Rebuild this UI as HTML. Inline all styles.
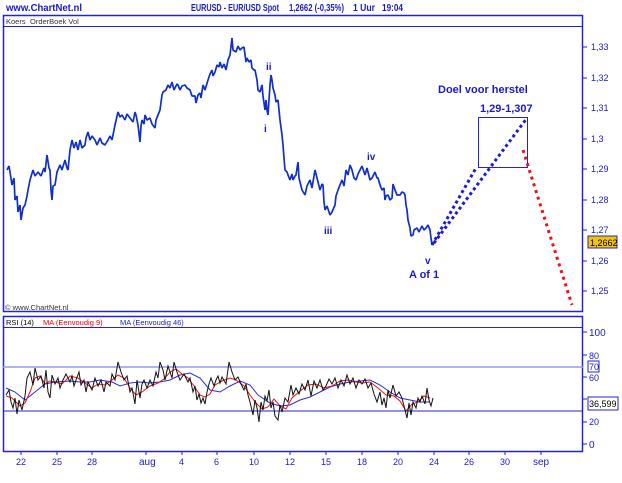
<!DOCTYPE html>
<html><head><meta charset="utf-8"><style>
body{margin:0;background:#fff;}
svg{display:block;font-family:"Liberation Sans",Arial,sans-serif;}
</style></head><body>
<svg width="622" height="483" viewBox="0 0 622 483" xmlns="http://www.w3.org/2000/svg">
<rect width="622" height="483" fill="#fff"/>
<text x="6" y="11" font-size="10" font-weight="bold" fill="#1a1acc" textLength="76" lengthAdjust="spacingAndGlyphs">www.ChartNet.nl</text>
<text x="191" y="11" font-size="10" font-weight="bold" fill="#1a1acc" textLength="88" lengthAdjust="spacingAndGlyphs">EURUSD - EUR/USD Spot</text>
<text x="289" y="11" font-size="10" font-weight="bold" fill="#1a1acc" textLength="55" lengthAdjust="spacingAndGlyphs">1,2662 (-0,35%)</text>
<text x="353" y="11" font-size="10" font-weight="bold" fill="#1a1acc" textLength="22" lengthAdjust="spacingAndGlyphs">1 Uur</text>
<text x="382" y="11" font-size="10" font-weight="bold" fill="#1a1acc" textLength="21" lengthAdjust="spacingAndGlyphs">19:04</text>
<!-- top panel -->
<rect x="3.5" y="15.5" width="579" height="296" fill="none" stroke="#2222dd" stroke-width="1.5"/>
<line x1="3" y1="26.5" x2="583" y2="26.5" stroke="#2222dd"/>
<text x="6" y="24" font-size="7.5" fill="#333">Koers</text>
<text x="30" y="24" font-size="7.5" fill="#333">OrderBoek Vol</text>
<text x="5" y="310" font-size="7.5" fill="#333">© www.ChartNet.nl</text>
<g font-size="9" fill="#1a1acc" stroke="#2222dd">
<line x1="583" y1="47" x2="587" y2="47"/><text x="591" y="50" stroke="none">1,33</text>
<line x1="583" y1="78" x2="587" y2="78"/><text x="591" y="81" stroke="none">1,32</text>
<line x1="583" y1="108" x2="587" y2="108"/><text x="591" y="111" stroke="none">1,31</text>
<line x1="583" y1="139" x2="587" y2="139"/><text x="591" y="142" stroke="none">1,3</text>
<line x1="583" y1="169" x2="587" y2="169"/><text x="591" y="172" stroke="none">1,29</text>
<line x1="583" y1="200" x2="587" y2="200"/><text x="591" y="203" stroke="none">1,28</text>
<line x1="583" y1="230" x2="587" y2="230"/><text x="591" y="233" stroke="none">1,27</text>
<line x1="583" y1="261" x2="587" y2="261"/><text x="591" y="264" stroke="none">1,26</text>
<line x1="583" y1="291" x2="587" y2="291"/><text x="591" y="294" stroke="none">1,25</text>
</g>
<rect x="588" y="236" width="29" height="12" fill="#f5c400" stroke="#2222dd"/>
<text x="590" y="246" font-size="9" fill="#000">1,2662</text>
<polyline fill="none" stroke="#1030c8" stroke-width="1.7" stroke-linejoin="bevel" points="7,170 9,166 10,172 12,185 14,178 15,200 17,196 18,212 20,205 21,220 23,208 25,205 27,196 28,190 30,180 33,170 35,176 38,172 41,176 44,168 45,172 47,155 49,168 50,170 51,190 52,200 53,186 55,185 57,172 60,165 62,170 65,160 67,168 68,170 70,150 72,140 74,148 76,142 78,150 80,140 82,148 85,145 86,138 88,132 90,140 92,136 95,140 97,145 100,138 102,143 105,145 108,140 110,136 112,140 115,125 118,112 120,117 122,115 125,120 127,114 130,118 133,122 135,112 136,115 138,125 140,142 141,126 142,120 144,124 145,115 147,120 150,118 152,124 155,128 156,120 158,115 160,110 162,95 163,92 166,90 168,85 170,88 172,82 174,90 175,88 177,84 178,85 180,90 182,86 185,85 187,88 190,90 192,96 195,96 196,103 198,95 200,93 201,98 203,85 205,90 208,80 210,74 212,70 213,76 215,72 217,65 219,67 220,62 222,68 224,64 226,70 228,60 230,55 232,38 233,50 236,52 238,46 240,50 242,48 244,47 246,62 247,58 249,62 251,60 252,68 254,70 255,70 257,80 258,90 260,92 262,85 263,96 265,110 266,100 267,110 268,115 269,100 270,85 271,75 272,80 273,88 275,95 276,102 278,100 280,120 282,135 283,145 284,158 285,170 287,172 288,175 290,180 292,174 293,180 295,176 296,175 298,162 299,178 300,182 302,190 305,195 307,186 310,180 312,188 315,170 317,178 320,190 322,184 323,185 324,202 325,210 327,206 330,215 332,212 335,205 336,196 338,190 340,185 342,180 344,186 346,170 348,175 350,165 352,170 354,178 356,180 358,174 360,170 362,166 365,175 367,168 370,180 372,178 375,172 377,178 378,178 380,185 382,190 384,188 385,200 386,196 388,195 390,200 392,198 393,184 395,190 397,195 400,195 402,192 404,193 405,195 406,205 407,210 408,220 410,228 411,236 413,235 414,230 417,228 419,232 422,226 424,230 426,228 428,225 430,230 431,238 432,245"/>
<!-- projection -->
<rect x="478.5" y="117.5" width="49" height="50" fill="none" stroke="#2222dd" stroke-width="1"/>
<line x1="432" y1="245" x2="476" y2="168" stroke="#1a1ae0" stroke-width="3" stroke-dasharray="3,3"/>
<line x1="434" y1="243" x2="527" y2="118" stroke="#1a1ae0" stroke-width="3" stroke-dasharray="3,3"/>
<line x1="523" y1="150" x2="572" y2="305" stroke="#ee1111" stroke-width="3" stroke-dasharray="3,4"/>
<g font-size="11" font-weight="bold" fill="#1a1acc">
<text x="438" y="93">Doel voor herstel</text>
<text x="480" y="112">1,29-1,307</text>
<text x="409" y="278">A of 1</text>
</g>
<g font-size="10" font-weight="bold" fill="#1a1acc">
<text x="266" y="70">ii</text>
<text x="264" y="132">i</text>
<text x="324" y="234">iii</text>
<text x="367" y="160">iv</text>
<text x="425" y="264">v</text>
</g>
<!-- RSI panel -->
<rect x="3.5" y="316.5" width="579" height="135" fill="none" stroke="#2222dd" stroke-width="1.5"/>
<line x1="3" y1="327.5" x2="583" y2="327.5" stroke="#2222dd"/>
<text x="6" y="325" font-size="7.5" fill="#000">RSI (14)</text>
<text x="43" y="325" font-size="7.5" fill="#e00">MA (Eenvoudig 9)</text>
<text x="120" y="325" font-size="7.5" fill="#1a1acc">MA (Eenvoudig 46)</text>
<line x1="3" y1="367" x2="583" y2="367" stroke="#9999ee" stroke-width="1.5"/>
<line x1="3" y1="411" x2="583" y2="411" stroke="#2222dd"/>
<g font-size="9" fill="#1a1acc" stroke="#2222dd">
<line x1="583" y1="332" x2="587" y2="332"/><text x="589" y="336" stroke="none" font-size="10">100</text>
<line x1="583" y1="355" x2="587" y2="355"/><text x="589" y="359" stroke="none">80</text>
<line x1="583" y1="377" x2="587" y2="377"/><text x="589" y="381" stroke="none">60</text>
<line x1="583" y1="399" x2="587" y2="399"/>
<line x1="583" y1="422" x2="587" y2="422"/><text x="589" y="425" stroke="none">20</text>
<line x1="583" y1="444" x2="587" y2="444"/><text x="589" y="448" stroke="none" font-size="10">0</text>
</g>
<rect x="588" y="361" width="11" height="11" fill="#fff" stroke="#2222dd"/><text x="589" y="370" font-size="9" fill="#1a1acc">70</text>
<rect x="588" y="397" width="30" height="13" fill="#fff" stroke="#2222dd"/><text x="589" y="407" font-size="9" fill="#000">36,599</text>
<polyline fill="none" stroke="#2a2adc" stroke-width="1" points="6,388 15,392 25,400 35,392 45,384 55,382 70,381 80,382 90,382 100,380 112,382 120,386 130,383 140,382 150,383 160,382 170,380 180,375 190,373 200,378 210,390 220,392 230,386 240,381 250,385 258,395 270,403 280,406 290,405 300,400 310,397 320,392 330,387 340,384 350,382 360,381 370,380 380,385 390,392 400,398 410,400 420,402 430,402"/>
<polyline fill="none" stroke="#ee1111" stroke-width="1" points="6,396 12,398 20,406 25,403 30,392 35,378 40,376 45,384 50,381 55,382 62,384 70,376 78,378 85,383 92,388 98,384 105,385 112,380 118,375 124,378 130,388 136,395 142,392 150,386 158,383 164,379 170,372 176,369 182,374 188,378 194,386 200,395 205,397 210,394 215,385 222,381 230,378 236,380 244,386 250,395 256,403 262,409 268,407 274,399 280,406 286,409 292,398 300,391 308,385 316,384 324,388 332,386 340,381 348,380 356,382 362,383 370,382 378,388 386,395 394,396 400,401 406,411 412,404 418,402 424,396 430,398"/>
<polyline fill="none" stroke="#111" stroke-width="1" points="6,395 9,390 11,402 13,408 15,398 17,414 19,400 22,410 25,396 27,378 30,372 33,385 35,368 38,380 41,376 44,388 46,370 48,392 50,398 52,375 55,384 58,378 60,388 63,380 66,374 70,382 72,376 74,386 76,380 79,372 81,385 84,380 86,392 88,382 92,390 95,378 98,386 101,380 104,392 106,382 110,386 112,374 115,380 118,362 121,372 124,380 127,376 130,392 132,388 135,404 137,380 140,398 142,384 144,380 147,388 150,380 153,386 156,372 158,378 160,362 163,370 165,380 168,366 172,378 174,362 177,372 180,380 184,374 188,382 190,378 193,392 195,386 197,400 199,394 201,403 203,398 205,404 207,392 209,384 211,378 214,386 216,380 218,376 220,383 222,377 226,384 229,362 232,372 235,380 238,377 241,384 244,390 246,384 248,395 250,402 253,415 255,400 257,408 259,422 261,402 263,410 265,396 267,401 269,390 271,408 273,402 275,416 278,420 280,405 282,412 285,398 288,402 291,385 293,395 296,388 299,394 302,384 305,390 308,380 311,396 314,381 317,388 320,380 323,390 326,386 329,379 332,384 335,378 338,388 341,380 344,386 347,375 350,384 353,378 356,388 359,380 362,384 365,379 368,388 371,383 374,394 377,402 380,392 382,405 384,398 386,408 388,390 390,398 393,385 396,396 399,392 402,398 405,410 407,418 409,403 411,415 413,402 416,408 418,398 420,402 422,396 425,404 427,388 429,400 431,406 433,398"/>
<!-- x axis -->
<g font-size="9" fill="#1a1acc" stroke="#2222dd">
<line x1="21" y1="451" x2="21" y2="455"/><text x="16" y="465" stroke="none">22</text>
<line x1="57" y1="451" x2="57" y2="455"/><text x="52" y="465" stroke="none">25</text>
<line x1="92" y1="451" x2="92" y2="455"/><text x="87" y="465" stroke="none">28</text>
<line x1="146" y1="451" x2="146" y2="455"/><text x="139" y="465" stroke="none" font-size="10">aug</text>
<line x1="182" y1="451" x2="182" y2="455"/><text x="179" y="465" stroke="none">4</text>
<line x1="217" y1="451" x2="217" y2="455"/><text x="214" y="465" stroke="none">6</text>
<line x1="254" y1="451" x2="254" y2="455"/><text x="249" y="465" stroke="none">10</text>
<line x1="290" y1="451" x2="290" y2="455"/><text x="285" y="465" stroke="none">12</text>
<line x1="326" y1="451" x2="326" y2="455"/><text x="321" y="465" stroke="none">15</text>
<line x1="362" y1="451" x2="362" y2="455"/><text x="357" y="465" stroke="none">18</text>
<line x1="398" y1="451" x2="398" y2="455"/><text x="393" y="465" stroke="none">20</text>
<line x1="434" y1="451" x2="434" y2="455"/><text x="429" y="465" stroke="none">24</text>
<line x1="469" y1="451" x2="469" y2="455"/><text x="464" y="465" stroke="none">26</text>
<line x1="505" y1="451" x2="505" y2="455"/><text x="500" y="465" stroke="none">30</text>
<line x1="541" y1="451" x2="541" y2="455"/><text x="533" y="465" stroke="none" font-size="10">sep</text>
</g>
</svg>
</body></html>
